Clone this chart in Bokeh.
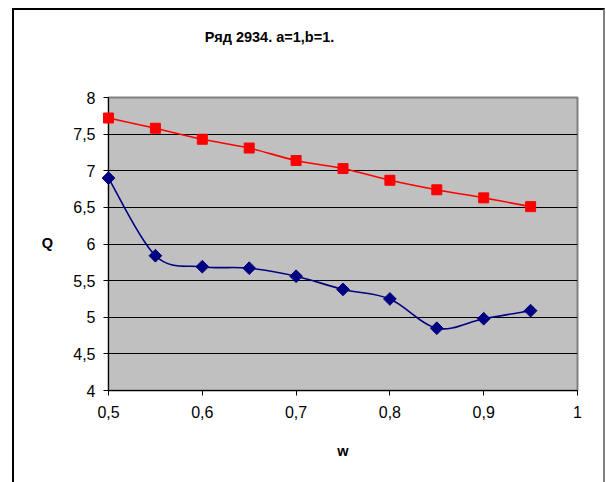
import math
from bokeh.plotting import figure
from bokeh.models import FixedTicker, Label, Range1d, InlineStyleSheet
from bokeh.embed import file_html
from bokeh.resources import INLINE

# ---- data ----
w_values = [0.5, 0.55, 0.6, 0.65, 0.7, 0.75, 0.8, 0.85, 0.9, 0.95]
q_upper = [7.72, 7.58, 7.43, 7.31, 7.14, 7.03, 6.87, 6.74, 6.63, 6.51]
q_lower = [6.90, 5.84, 5.69, 5.67, 5.56, 5.38, 5.25, 4.85, 4.98, 5.09]
x_ticks = [0.5, 0.6, 0.7, 0.8, 0.9, 1.0]
x_tick_labels = ["0,5", "0,6", "0,7", "0,8", "0,9", "1"]
y_ticks = [4, 4.5, 5, 5.5, 6, 6.5, 7, 7.5, 8]
y_tick_labels = ["4", "4,5", "5", "5,5", "6", "6,5", "7", "7,5", "8"]
title_text = "Ряд 2934. a=1,b=1."
x_label = "w"
y_label = "Q"

FONT = "Liberation Sans"

# frame placement (canvas px)
L, R, T, B = 108, 577, 97, 390
W, H = 606, 482

border_css = InlineStyleSheet(css="""
:host { position: relative; }
:host::after {
  content: ""; position: absolute; left: 12px; top: 8px; width: 589px; height: 480px;
  border-left: 2px solid black; border-top: 2px solid black; border-right: 2px solid #808080;
  pointer-events: none; box-sizing: content-box;
}
""")

p = figure(width=W, height=H, output_backend="svg", toolbar_location=None,
           x_range=Range1d(0.5, 1.0), y_range=Range1d(4, 8),
           min_border_left=L, min_border_right=W - R,
           min_border_top=T, min_border_bottom=H - B,
           stylesheets=[border_css])
p.background_fill_color = "#C0C0C0"
p.border_fill_color = "white"
p.outline_line_color = "#808080"
p.outline_line_width = 2

# grid
p.xgrid.visible = False
p.ygrid.ticker = FixedTicker(ticks=y_ticks)
p.ygrid.grid_line_color = "black"
p.ygrid.grid_line_width = 1

# axes
for ax, ticks, labels in ((p.xaxis[0], x_ticks, x_tick_labels), (p.yaxis[0], y_ticks, y_tick_labels)):
    ax.ticker = FixedTicker(ticks=ticks)
    ax.major_label_overrides = {t: l for t, l in zip(ticks, labels)}
    ax.axis_line_color = "black"
    ax.axis_line_width = 1
    ax.major_tick_line_color = "black"
    ax.major_tick_in = 0
    ax.major_tick_out = 5
    ax.minor_tick_line_color = None
    ax.major_label_text_font = FONT
    ax.major_label_text_font_size = "16px"
    ax.major_label_text_color = "black"

p.yaxis.major_label_standoff = 8
p.xaxis.major_label_standoff = 10
p.xaxis.axis_label = x_label
p.xaxis.axis_label_text_font = FONT
p.xaxis.axis_label_text_font_style = "bold"
p.xaxis.axis_label_text_font_size = "14.5px"
p.xaxis.axis_label_text_color = "black"
p.xaxis.axis_label_standoff = 22


def smooth(xs, ys):
    n = len(xs)
    d = dict(x0=[], y0=[], x1=[], y1=[], cx0=[], cy0=[], cx1=[], cy1=[])
    for i in range(n - 1):
        a = max(i - 1, 0)
        b = min(i + 2, n - 1)
        d["x0"].append(xs[i]); d["y0"].append(ys[i])
        d["x1"].append(xs[i + 1]); d["y1"].append(ys[i + 1])
        d["cx0"].append(xs[i] + (xs[i + 1] - xs[a]) / 6)
        d["cy0"].append(ys[i] + (ys[i + 1] - ys[a]) / 6)
        d["cx1"].append(xs[i + 1] - (xs[b] - xs[i]) / 6)
        d["cy1"].append(ys[i + 1] - (ys[b] - ys[i]) / 6)
    return d


p.bezier(**smooth(w_values, q_upper), line_color="#FF0000", line_width=1.6)
p.bezier(**smooth(w_values, q_lower), line_color="#000080", line_width=1.6)
p.scatter(w_values, q_upper, marker="square", size=10, fill_color="#FF0000",
          line_color="#FF0000", level="overlay")
p.scatter(w_values, q_lower, marker="square", size=9, angle=math.pi / 4, fill_color="#000080",
          line_color="#000080", level="overlay")

# title and vertical-axis label in side panels
p.add_layout(Label(x=269 - L, y=61, x_units="screen", y_units="screen", text=title_text,
                   text_align="center", text_baseline="middle", text_font=FONT,
                   text_font_style="bold", text_font_size="14.5px", text_color="black"), "above")
p.add_layout(Label(x=-12, y=148, x_units="screen", y_units="screen", text=y_label,
                   text_align="center", text_baseline="middle", text_font=FONT,
                   text_font_style="bold", text_font_size="14.5px", text_color="black"), "left")

open("out.html", "w").write(file_html(p, INLINE))
